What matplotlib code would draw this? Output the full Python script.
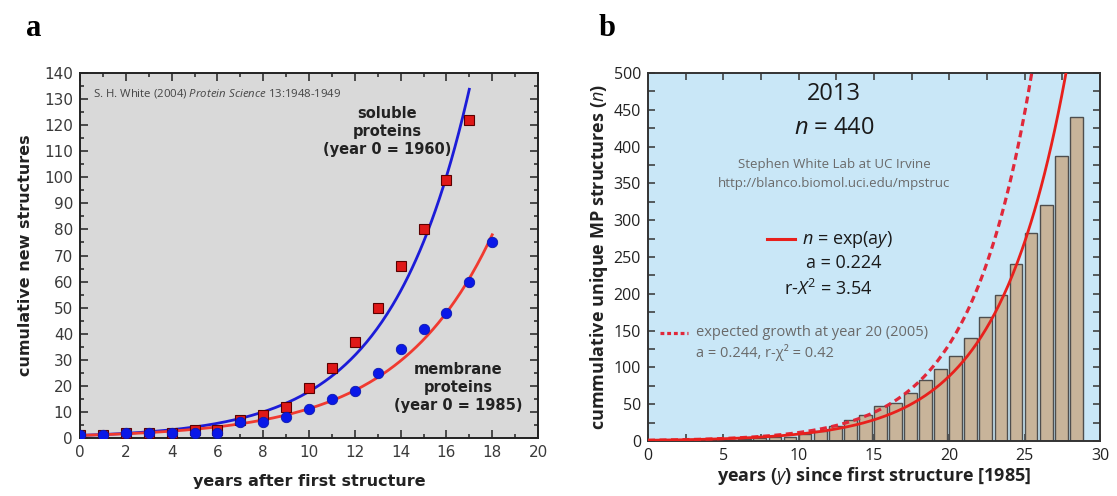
import numpy as np
import matplotlib
matplotlib.use("Agg")
import matplotlib.pyplot as plt
from matplotlib.ticker import MultipleLocator

# ---------------- data ----------------
# panel a
years_soluble = list(range(0, 18))
soluble = [1, 1, 2, 2, 2, 3, 3, 7, 9, 12, 19, 27, 37, 50, 66, 80, 99, 122]
years_membrane = list(range(0, 19))
membrane = [1, 1, 2, 2, 2, 2, 2, 6, 6, 8, 11, 15, 18, 25, 34, 42, 48, 60, 75]
a_soluble = 0.288
a_membrane = 0.242
x_ticks_a = list(range(0, 21, 2))
y_ticks_a = list(range(0, 141, 10))

# panel b
years_b = list(range(0, 29))
mp_counts = [1, 1, 1, 2, 2, 2, 3, 4, 5, 6, 9, 14, 20, 29, 36, 47, 52, 65, 83,
             98, 115, 140, 169, 199, 240, 282, 321, 387, 440]
a_fit = 0.224
a_expected = 0.244
x_ticks_b = list(range(0, 31, 5))
y_ticks_b = list(range(0, 501, 50))

# ---------------- style ----------------
plt.rcParams["mathtext.fontset"] = "custom"
plt.rcParams["mathtext.rm"] = "Open Sans"
plt.rcParams["mathtext.it"] = "Open Sans:italic"
plt.rcParams["mathtext.bf"] = "Open Sans:bold"

W, H = 1117, 496
fig = plt.figure(figsize=(W / 100, H / 100), dpi=100)
fig.patch.set_facecolor("white")

def px_axes(l, t, r, b):
    return fig.add_axes([l / W, 1 - b / H, (r - l) / W, (b - t) / H])

# ---------------- panel a ----------------
axa = px_axes(80, 73, 538, 438)
axa.set_facecolor("#d9d9d9")
xs = np.linspace(0, 17, 300)
axa.plot(xs, np.exp(a_soluble * xs), color="#1c1cd8", lw=2, zorder=2)
xm = np.linspace(0, 18, 300)
axa.plot(xm, np.exp(a_membrane * xm), color="#f03a30", lw=2, zorder=2)
axa.plot(years_soluble, soluble, ls="none", marker="s", ms=6.5,
         mfc="#e01818", mec="#5a0000", mew=0.8, zorder=3)
axa.plot(years_membrane, membrane, ls="none", marker="o", ms=7.5,
         mfc="#0a18e8", mec="#0a18b0", mew=0.6, zorder=4)
axa.set_xlim(0, 20)
axa.set_ylim(0, 140)
axa.set_xticks(x_ticks_a)
axa.set_yticks(y_ticks_a)
axa.xaxis.set_minor_locator(MultipleLocator(1))
axa.yaxis.set_minor_locator(MultipleLocator(5))
axa.tick_params(which="both", direction="in", top=True, right=True,
                width=1.1, colors="#222222", labelsize=11, labelcolor="#3a3a3a")
axa.tick_params(which="major", length=6, pad=5)
axa.tick_params(which="minor", length=3)
for s in axa.spines.values():
    s.set_linewidth(1.4)
    s.set_color("#222222")
axa.set_xlabel("years after first structure", fontsize=11.5, fontweight="bold",
               color="#222222", labelpad=10)
axa.set_ylabel("cumulative new structures", fontsize=11.5, fontweight="bold",
               color="#222222", labelpad=8)
axa.text(0.55, 132, r"S. H. White (2004) $\mathit{Protein\ Science}$ 13:1948-1949",
         fontsize=8.2, family="Open Sans", color="#444444",
         va="center", ha="left")
axa.text(13.4, 117.5, "soluble\nproteins\n(year 0 = 1960)", fontsize=10.5,
         fontweight="bold", ha="center", va="center", color="#222222",
         linespacing=1.25)
axa.text(16.5, 19.5, "membrane\nproteins\n(year 0 = 1985)", fontsize=10.5,
         fontweight="bold", ha="center", va="center", color="#222222",
         linespacing=1.25)

# ---------------- panel b ----------------
axb = px_axes(648, 73, 1100, 441)
axb.set_facecolor("#c9e7f7")
axb.bar(years_b, mp_counts, width=0.85, align="edge", color="#c8b49a",
        edgecolor="#4e4e4e", linewidth=1.0, zorder=2)
xx = np.linspace(0, 30, 400)
axb.plot(xx, np.exp(a_expected * xx), color="#e0283a", lw=2.3,
         ls=(0, (2.2, 1.4)), zorder=3)
axb.plot(xx, np.exp(a_fit * xx), color="#e8201c", lw=2.0, zorder=4)
axb.set_xlim(0, 30)
axb.set_ylim(0, 500)
axb.set_xticks(x_ticks_b)
axb.set_yticks(y_ticks_b)
axb.xaxis.set_minor_locator(MultipleLocator(2.5))
axb.yaxis.set_minor_locator(MultipleLocator(25))
axb.tick_params(which="both", direction="in", top=True, right=True,
                width=1.1, length=5, colors="#333333")
axb.tick_params(which="major", labelsize=11.5, pad=5, labelcolor="#222222")
for lab in axb.get_xticklabels() + axb.get_yticklabels():
    lab.set_family("Open Sans")
for s in axb.spines.values():
    s.set_linewidth(1.4)
    s.set_color("#333333")
axb.set_xlabel(r"years ($\mathit{y}$) since first structure [1985]", fontsize=13,
               fontweight="bold", family="Open Sans", color="#222222", labelpad=1)
axb.set_ylabel(r"cummulative unique MP structures ($\mathit{n}$)", fontsize=13,
               fontweight="bold", family="Open Sans", color="#222222", labelpad=3)

tk = dict(family="Open Sans", ha="center", va="center")
axb.text(12.35, 472, "2013", fontsize=17, color="#1a1a1a", **tk)
axb.text(12.35, 425, r"$n$ = 440", fontsize=17, color="#1a1a1a", **tk)
axb.text(12.35, 376, "Stephen White Lab at UC Irvine", fontsize=9.5,
         color="#6a6a6a", **tk)
axb.text(12.35, 350, "http://blanco.biomol.uci.edu/mpstruc", fontsize=9.5,
         color="#6a6a6a", **tk)
axb.plot([7.9, 9.75], [274, 274], color="#e8201c", lw=2.2)
axb.text(10.2, 274, r"$n$ = exp(a$y$)", fontsize=13, color="#1a1a1a",
         family="Open Sans", ha="left", va="center")
axb.text(13.0, 242, "a = 0.224", fontsize=13, color="#1a1a1a", **tk)
axb.text(11.95, 206, r"r-$X^2$ = 3.54", fontsize=13, color="#1a1a1a", **tk)
axb.plot([0.8, 2.65], [147, 147], color="#e0283a", lw=2.3, ls=(0, (1.2, 0.9)))
axb.text(3.2, 147, "expected growth at year 20 (2005)", fontsize=10.5,
         color="#6a6a6a", family="Open Sans", ha="left", va="center")
axb.text(3.2, 120, "a = 0.244, r-\u03c7\u00b2 = 0.42", fontsize=10.5,
         color="#6a6a6a", family="Open Sans", ha="left", va="center")

# panel letters
fig.text(34 / W, 1 - 28 / H, "a", fontsize=22, fontweight="bold",
         family="Liberation Serif", ha="center", va="center")
fig.text(607 / W, 1 - 28 / H, "b", fontsize=22, fontweight="bold",
         family="Liberation Serif", ha="center", va="center")

fig.savefig("out.png", dpi=100, facecolor="white")
